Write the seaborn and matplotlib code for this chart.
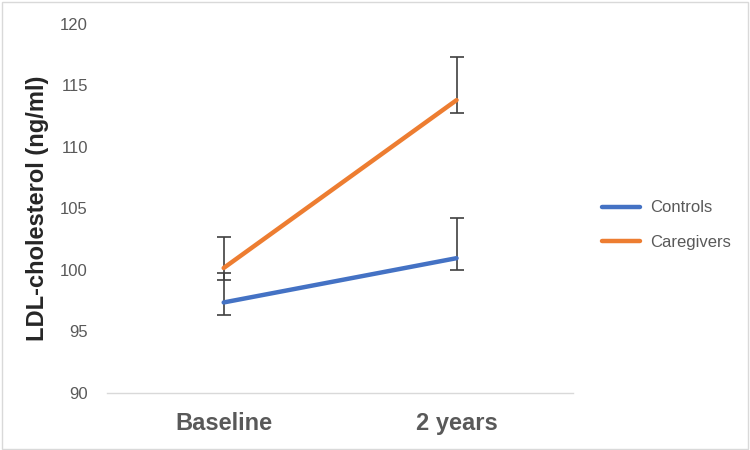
import pandas as pd
import matplotlib.pyplot as plt
import seaborn as sns
from matplotlib.patches import Rectangle

# Datos
timepoints = ['Baseline', '2 years']
controls = [97.35, 100.95]
caregivers = [100.15, 113.8]
controls_err_low = [1.0, 0.95]
controls_err_high = [2.4, 3.3]
caregivers_err_low = [1.0, 1.05]
caregivers_err_high = [2.5, 3.5]

df = pd.DataFrame({
    'Time': timepoints * 2,
    'LDL': controls + caregivers,
    'Group': ['Controls'] * 2 + ['Caregivers'] * 2,
})

sns.set_style('white')
plt.rcParams['font.family'] = ['Liberation Sans', 'DejaVu Sans']

fig = plt.figure(figsize=(7.5, 4.5), dpi=100)
ax = fig.add_axes([0.143, 0.127, 0.621, 0.82])

palette = {'Controls': '#4472C4', 'Caregivers': '#ED7D31'}
sns.lineplot(data=df, x='Time', y='LDL', hue='Group', palette=palette,
             linewidth=3.2, ax=ax, sort=False)

# Barras de error asimetricas
ax.errorbar(timepoints, controls, yerr=[controls_err_low, controls_err_high],
            fmt='none', ecolor='#404040', elinewidth=1.2, capsize=5, capthick=1.2, zorder=1)
ax.errorbar(timepoints, caregivers, yerr=[caregivers_err_low, caregivers_err_high],
            fmt='none', ecolor='#404040', elinewidth=1.2, capsize=5, capthick=1.2, zorder=1)

ax.set_xlim(-0.5, 1.5)
ax.set_ylim(90, 120)
ax.set_yticks(range(90, 121, 5))
ax.set_xlabel('')
ax.set_ylabel('LDL-cholesterol (ng/ml)', fontsize=17, fontweight='bold', color='#262626', labelpad=8)
ax.tick_params(axis='y', labelsize=12, labelcolor='#595959', length=0, pad=14)
ax.tick_params(axis='x', labelsize=17, labelcolor='#595959', length=0, pad=14)
for lbl in ax.get_xticklabels():
    lbl.set_fontweight('bold')

for side in ['top', 'right', 'left']:
    ax.spines[side].set_visible(False)
ax.spines['bottom'].set_color('#d9d9d9')
ax.spines['bottom'].set_linewidth(1)
ax.set_facecolor('white')

leg = ax.legend(loc='center left', bbox_to_anchor=(1.03, 0.455), frameon=False,
                fontsize=12, handlelength=2.3, handletextpad=0.6, labelspacing=1.15)
for t in leg.get_texts():
    t.set_color('#595959')

# Borde del area del grafico
fig.patches.append(Rectangle((0.002, 0.003), 0.995, 0.993, transform=fig.transFigure,
                             fill=False, edgecolor='#d9d9d9', linewidth=1))

fig.savefig('out.png', dpi=100)
